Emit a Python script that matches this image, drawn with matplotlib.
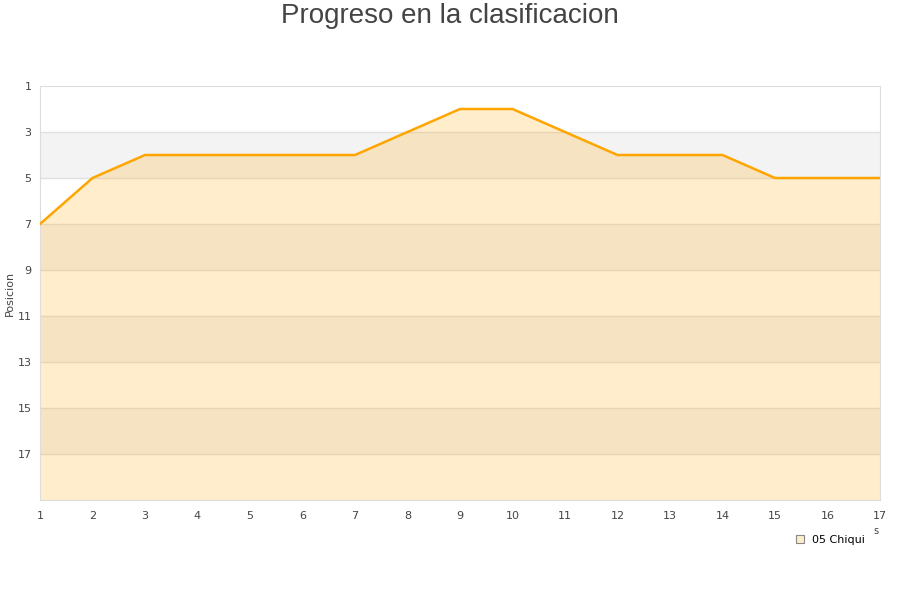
import matplotlib
matplotlib.use("Agg")
import matplotlib.pyplot as plt

jornadas = list(range(1, 18))
posicion = [7, 5, 4, 4, 4, 4, 4, 3, 2, 2, 3, 4, 4, 4, 5, 5, 5]
y_ticks = [1, 3, 5, 7, 9, 11, 13, 15, 17]
serie = "05 Chiqui"

fig = plt.figure(figsize=(9, 6), dpi=100)
ax = fig.add_axes([40 / 900, 100 / 600, 840 / 900, 414 / 600])

# alternating bands every two positions
for y0 in range(3, 19, 4):
    ax.axhspan(y0, y0 + 2, color="#f3f3f3", zorder=0, lw=0)
for y in y_ticks[1:]:
    ax.axhline(y, color="#e0e0e0", lw=1, zorder=1)

ax.fill_between(jornadas, posicion, 19, color="#ffa500", alpha=0.2, lw=0, zorder=2)
ax.plot(jornadas, posicion, color="#ffa500", lw=1.8, zorder=3)

ax.set_xlim(1, 17)
ax.set_ylim(19, 1)
ax.set_xticks(jornadas)
ax.set_yticks(y_ticks)
ax.tick_params(length=0, labelsize=8, colors="#444444", pad=8)
ax.tick_params(axis="y", pad=6)
for s in ax.spines.values():
    s.set_color("#dddddd")

fig.text(10 / 900, 1 - 293 / 600, "Posicion", rotation=90, fontsize=8,
         color="#444444", ha="center", va="center")
fig.text(0.5, 1 - 16 / 600, "Progreso en la clasificacion", ha="center", va="center",
         fontsize=20, color="#444444", family="Liberation Sans")
fig.text(873 / 900, 1 - 531 / 600, "s", fontsize=7, color="#444444", ha="left", va="center")

ax.plot([], [], "s", ms=6, mfc="#feedcb", mec="#888888", mew=0.8, label=serie)
ax.legend(loc="upper right", bbox_to_anchor=(875 / 900, 1 - 525 / 600),
          bbox_transform=fig.transFigure, frameon=False, fontsize=8,
          handletextpad=0.5, handlelength=1.2)

fig.savefig("out.png", dpi=100)
